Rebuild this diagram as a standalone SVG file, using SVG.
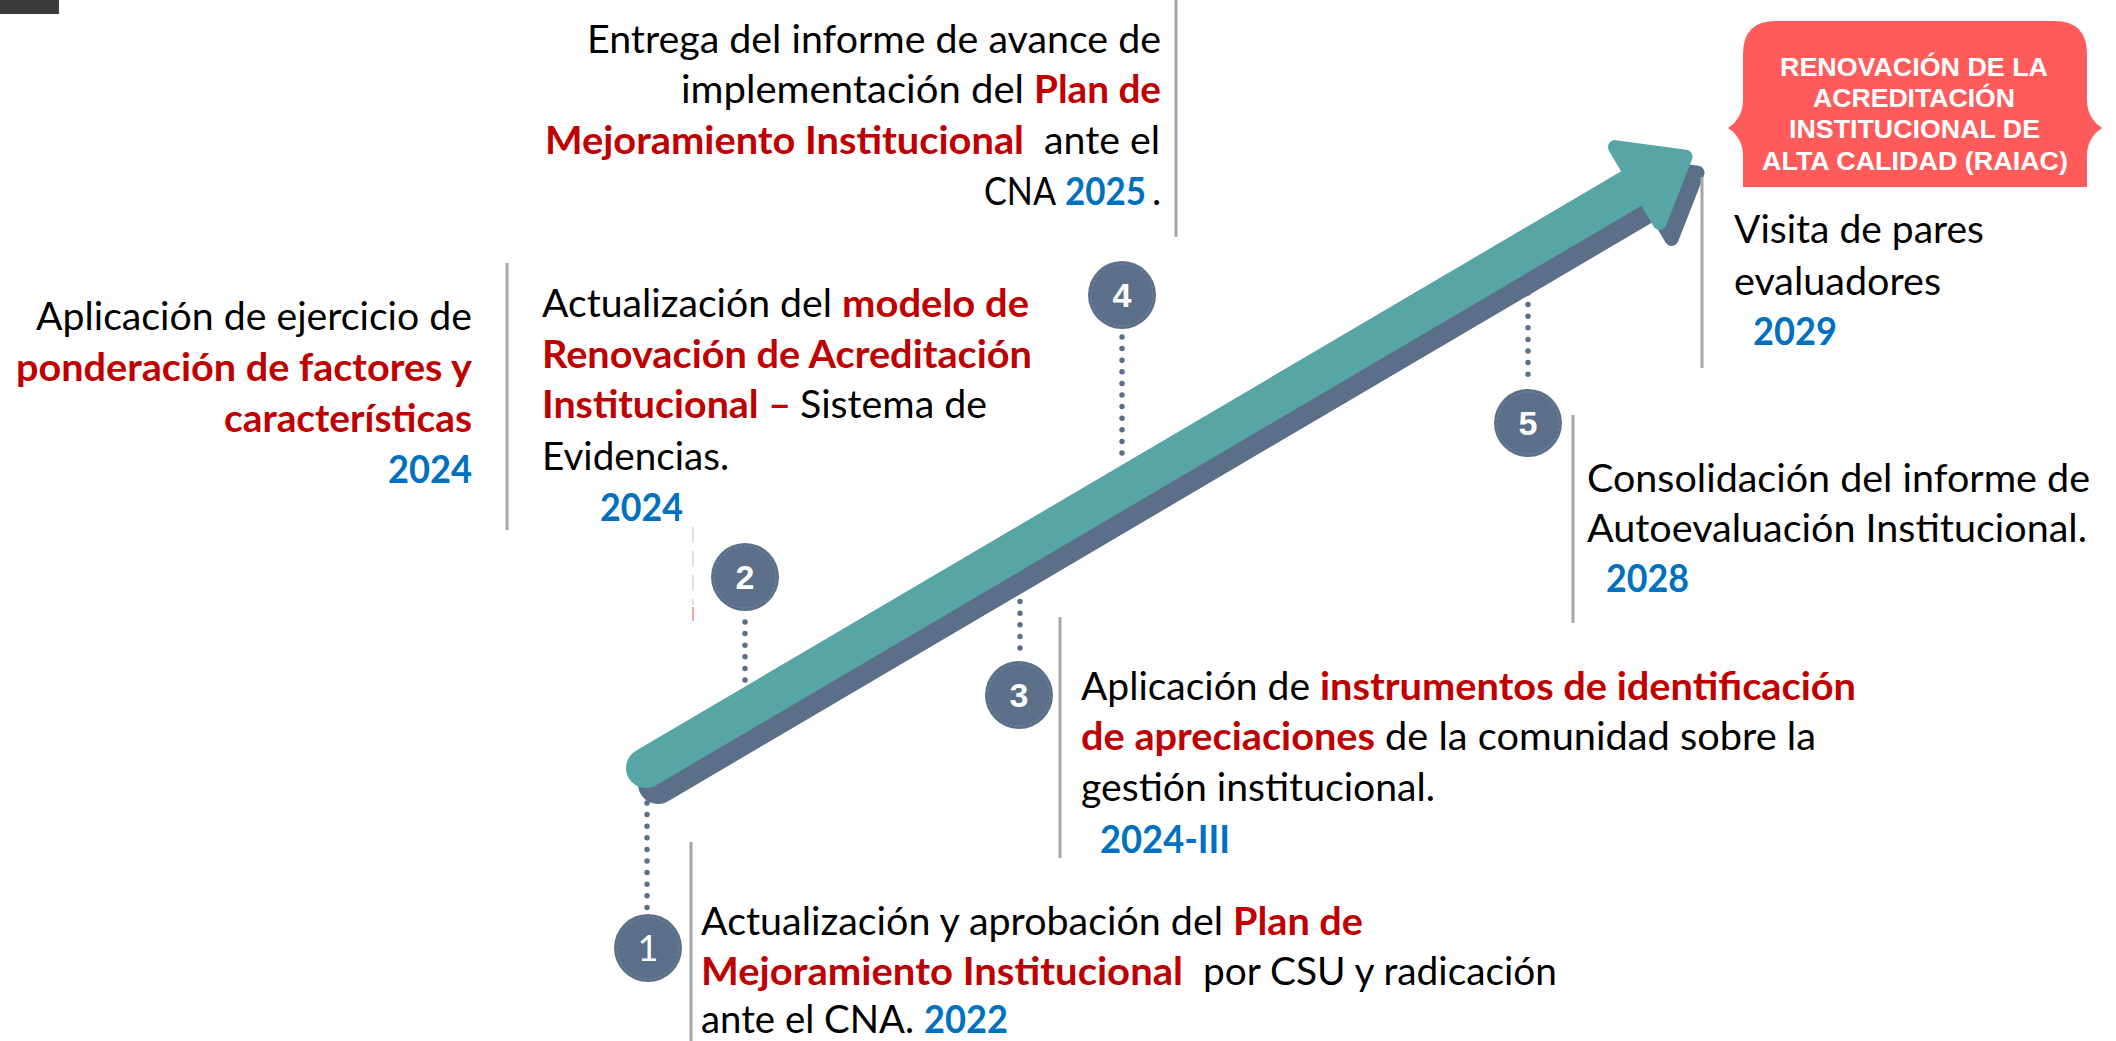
<svg xmlns="http://www.w3.org/2000/svg" xmlns:xlink="http://www.w3.org/1999/xlink" width="2116" height="1041" viewBox="0 0 2116 1041">
<style>
.t{font-family:Lato,"Liberation Sans",sans-serif;font-size:39px;fill:#000}
.r{fill:#C00000;font-weight:700}
.b{fill:#0070C0;font-weight:700}
.sep{stroke:#A6A6A6;stroke-width:3}
.dot{stroke:#5B6F89;stroke-width:5.5;stroke-linecap:round;stroke-dasharray:0 11.6;fill:none}
.badge{fill:#5B6F89}
.ring{fill:none;stroke:#7F8FA6;stroke-width:1;stroke-dasharray:3 2;opacity:.7}
.num{font-family:"Liberation Sans",Arial,sans-serif;font-weight:700;font-size:34px;fill:#fff;text-anchor:middle}
.num1{font-family:Lato,"Liberation Sans",sans-serif;font-weight:400;font-size:36px;fill:#fff;text-anchor:middle}
.box{font-family:"Liberation Sans",Arial,sans-serif;font-weight:700;font-size:25px;fill:#fff}
</style>
<defs>
<g id="arrowShape">
<line x1="0" y1="0" x2="1150" y2="0" stroke-width="40" stroke-linecap="round"/>
<polygon points="1150,-44 1206,0 1150,44" stroke-width="14" stroke-linejoin="round"/>
</g>
</defs>
<rect x="0" y="0" width="2116" height="1041" fill="#fff"/>
<rect x="0" y="0" width="59" height="14" fill="#3b3b3b"/>

<g id="connectors">
<use xlink:href="#arrowShape" fill="#5C6F89" stroke="#5C6F89" transform="translate(658,784) rotate(-30.46)"/>
<use xlink:href="#arrowShape" fill="#57A5A5" stroke="#57A5A5" transform="translate(646,768) rotate(-30.46)"/>
<line class="dot" x1="647" y1="803" x2="647" y2="912"/>
<line class="dot" x1="745" y1="622" x2="745" y2="683"/>
<line class="dot" x1="1020" y1="590" x2="1020" y2="652"/>
<line class="dot" x1="1122" y1="337" x2="1122" y2="458"/>
<line class="dot" x1="1528" y1="293" x2="1528" y2="377"/>
<line class="sep" x1="507" y1="263" x2="507" y2="530"/>
<line x1="693" y1="527" x2="693" y2="605" stroke="#d6d6d6" stroke-width="1.5" stroke-dasharray="16 8"/>
<line x1="693" y1="607" x2="693" y2="621" stroke="#e88" stroke-width="1.5"/>
<line class="sep" x1="1176" y1="0" x2="1176" y2="237"/>
<line class="sep" x1="1060" y1="617" x2="1060" y2="858"/>
<line class="sep" x1="691" y1="842" x2="691" y2="1041"/>
<line class="sep" x1="1573" y1="415" x2="1573" y2="623"/>
<line class="sep" x1="1702" y1="177" x2="1702" y2="368"/>
</g>

<g id="badge1"><circle class="badge" cx="648" cy="948" r="34"/><circle class="ring" cx="648" cy="948" r="31"/><text class="num1" x="648" y="961">1</text></g>
<g id="badge2"><circle class="badge" cx="745" cy="577" r="34"/><circle class="ring" cx="745" cy="577" r="31"/><text class="num" x="745" y="589">2</text></g>
<g id="badge3"><circle class="badge" cx="1019" cy="695" r="34"/><circle class="ring" cx="1019" cy="695" r="31"/><text class="num" x="1019" y="707">3</text></g>
<g id="badge4"><circle class="badge" cx="1122" cy="295" r="34"/><circle class="ring" cx="1122" cy="295" r="31"/><text class="num" x="1122" y="307">4</text></g>
<g id="badge5"><circle class="badge" cx="1528" cy="423" r="34"/><circle class="ring" cx="1528" cy="423" r="31"/><text class="num" x="1528" y="435">5</text></g>

<g id="raiac">
<path d="M1776,21 L2054,21 Q2087,21 2087,54 L2087,100 Q2087,118 2102,128 Q2087,138 2087,156 L2087,187 L1743,187 L1743,156 Q1743,138 1728,128 Q1743,118 1743,100 L1743,54 Q1743,21 1776,21 Z" fill="#FF5B5B"/>
<text class="box" x="1780" y="76" textLength="268" lengthAdjust="spacingAndGlyphs">RENOVACIÓN DE LA</text>
<text class="box" x="1813" y="107" textLength="202" lengthAdjust="spacingAndGlyphs">ACREDITACIÓN</text>
<text class="box" x="1789" y="138" textLength="251" lengthAdjust="spacingAndGlyphs">INSTITUCIONAL DE</text>
<text class="box" x="1762" y="170" textLength="306" lengthAdjust="spacingAndGlyphs">ALTA CALIDAD (RAIAC)</text>
</g>

<g id="node-ponderacion">
<text class="t" x="36" y="330" textLength="436" lengthAdjust="spacingAndGlyphs">Aplicación de ejercicio de</text>
<text class="t r" x="16" y="381" textLength="456" lengthAdjust="spacingAndGlyphs">ponderación de factores y</text>
<text class="t r" x="224" y="432" textLength="248" lengthAdjust="spacingAndGlyphs">características</text>
<text class="t b" x="388" y="483" textLength="84" lengthAdjust="spacingAndGlyphs">2024</text>
</g>

<g id="node-modelo">
<text class="t" x="542" y="317" textLength="290" lengthAdjust="spacingAndGlyphs">Actualización del</text>
<text class="t r" x="842" y="317" textLength="187" lengthAdjust="spacingAndGlyphs">modelo de</text>
<text class="t r" x="542" y="368" textLength="490" lengthAdjust="spacingAndGlyphs">Renovación de Acreditación</text>
<text class="t r" x="542" y="418" textLength="249" lengthAdjust="spacingAndGlyphs">Institucional –</text>
<text class="t" x="800" y="418" textLength="187" lengthAdjust="spacingAndGlyphs">Sistema de</text>
<text class="t" x="542" y="470" textLength="187" lengthAdjust="spacingAndGlyphs">Evidencias.</text>
<text class="t b" x="600" y="521" textLength="83" lengthAdjust="spacingAndGlyphs">2024</text>
</g>

<g id="node-entrega">
<text class="t" x="587" y="53" textLength="574" lengthAdjust="spacingAndGlyphs">Entrega del informe de avance de</text>
<text class="t" x="681" y="103" textLength="343" lengthAdjust="spacingAndGlyphs">implementación del</text>
<text class="t r" x="1034" y="103" textLength="127" lengthAdjust="spacingAndGlyphs">Plan de</text>
<text class="t r" x="545" y="154" textLength="479" lengthAdjust="spacingAndGlyphs">Mejoramiento Institucional</text>
<text class="t" x="1044" y="154" textLength="116" lengthAdjust="spacingAndGlyphs">ante el</text>
<text class="t" x="984" y="205" textLength="72" lengthAdjust="spacingAndGlyphs">CNA</text>
<text class="t b" x="1065" y="205" textLength="81" lengthAdjust="spacingAndGlyphs">2025</text>
<text class="t" x="1152" y="205">.</text>
</g>

<g id="node-instrumentos">
<text class="t" x="1081" y="700" textLength="229" lengthAdjust="spacingAndGlyphs">Aplicación de</text>
<text class="t r" x="1320" y="700" textLength="536" lengthAdjust="spacingAndGlyphs">instrumentos de identificación</text>
<text class="t r" x="1081" y="750" textLength="294" lengthAdjust="spacingAndGlyphs">de apreciaciones</text>
<text class="t" x="1385" y="750" textLength="431" lengthAdjust="spacingAndGlyphs">de la comunidad sobre la</text>
<text class="t" x="1081" y="801" textLength="354" lengthAdjust="spacingAndGlyphs">gestión institucional.</text>
<text class="t b" x="1100" y="853" textLength="130" lengthAdjust="spacingAndGlyphs">2024-III</text>
</g>

<g id="node-plan">
<text class="t" x="701" y="935" textLength="522" lengthAdjust="spacingAndGlyphs">Actualización y aprobación del</text>
<text class="t r" x="1233" y="935" textLength="130" lengthAdjust="spacingAndGlyphs">Plan de</text>
<text class="t r" x="701" y="985" textLength="482" lengthAdjust="spacingAndGlyphs">Mejoramiento Institucional</text>
<text class="t" x="1203" y="985" textLength="354" lengthAdjust="spacingAndGlyphs">por CSU y radicación</text>
<text class="t" x="701" y="1033" textLength="213" lengthAdjust="spacingAndGlyphs">ante el CNA.</text>
<text class="t b" x="924" y="1033" textLength="84" lengthAdjust="spacingAndGlyphs">2022</text>
</g>

<g id="node-consolidacion">
<text class="t" x="1587" y="492" textLength="503" lengthAdjust="spacingAndGlyphs">Consolidación del informe de</text>
<text class="t" x="1587" y="542" textLength="500" lengthAdjust="spacingAndGlyphs">Autoevaluación Institucional.</text>
<text class="t b" x="1606" y="592" textLength="83" lengthAdjust="spacingAndGlyphs">2028</text>
</g>

<g id="node-visita">
<text class="t" x="1734" y="243" textLength="250" lengthAdjust="spacingAndGlyphs">Visita de pares</text>
<text class="t" x="1734" y="295" textLength="207" lengthAdjust="spacingAndGlyphs">evaluadores</text>
<text class="t b" x="1753" y="345" textLength="84" lengthAdjust="spacingAndGlyphs">2029</text>
</g>
</svg>
